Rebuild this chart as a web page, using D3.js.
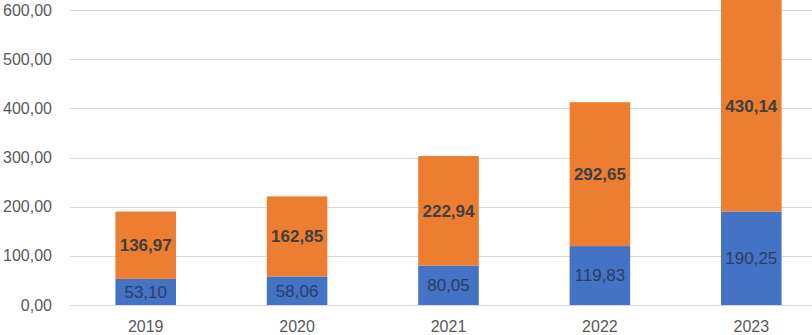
<!DOCTYPE html>
<html>
<head>
<meta charset="utf-8">
<script src="https://cdn.jsdelivr.net/npm/d3@7"></script>
<style>
  body { margin: 0; background: #fff; }
  svg { display: block; font-family: "Liberation Sans", Arial, sans-serif; }
</style>
</head>
<body>
<div id="chart"></div>
<script>
const years = ["2019", "2020", "2021", "2022", "2023"];
const blueValues = [53.10, 58.06, 80.05, 119.83, 190.25];
const orangeValues = [136.97, 162.85, 222.94, 292.65, 430.14];
const yTicks = [0, 100, 200, 300, 400, 500, 600];

const W = 812, H = 335;
const fmt = v => d3.format(".2f")(v).replace(".", ",");

const svg = d3.select("#chart").append("svg").attr("width", W).attr("height", H);

const x = d3.scaleBand().domain(years).range([70, 827]).paddingInner(0.6).paddingOuter(0.3);
const y = d3.scaleLinear().domain([0, 600]).range([305, 10]);

// gridlines
svg.append("g").selectAll("line").data(yTicks).enter().append("line")
  .attr("x1", 70).attr("x2", W)
  .attr("y1", d => Math.round(y(d)) + 0.5).attr("y2", d => Math.round(y(d)) + 0.5)
  .attr("stroke", "#d9d9d9").attr("stroke-width", 1);

// y axis labels
const yAxis = svg.append("g").attr("transform", "translate(52,0)")
  .call(d3.axisLeft(y).tickValues(yTicks).tickSize(0).tickPadding(0).tickFormat(fmt));
yAxis.select(".domain").remove();
yAxis.selectAll("text").attr("fill", "#595959").style("font-size", "16px").style("font-family", "Liberation Sans, Arial, sans-serif");

// x axis labels (sit right on the bottom edge, as in the reference)
const xAxis = svg.append("g").attr("transform", "translate(0,305)")
  .call(d3.axisBottom(x).tickSize(0).tickPadding(16));
xAxis.select(".domain").remove();
xAxis.selectAll("text").attr("fill", "#595959").style("font-size", "16px").style("font-family", "Liberation Sans, Arial, sans-serif");

const rows = years.map((yr, i) => ({ year: yr, blue: blueValues[i], orange: orangeValues[i] }));
const stacked = d3.stack().keys(["blue", "orange"])(rows);
const colors = { blue: "#4472C4", orange: "#ED7D31" };

stacked.forEach(layer => {
  const g = svg.append("g");
  g.selectAll("rect").data(layer).enter().append("rect")
    .attr("x", d => x(d.data.year))
    .attr("width", x.bandwidth())
    .attr("y", d => y(d[1]))
    .attr("height", d => y(d[0]) - y(d[1]))
    .attr("fill", colors[layer.key]);

  g.selectAll("text").data(layer).enter().append("text")
    .attr("x", d => x(d.data.year) + x.bandwidth() / 2)
    .attr("y", d => y((d[0] + d[1]) / 2))
    .attr("dy", "0.35em")
    .attr("text-anchor", "middle")
    .attr("fill", layer.key === "blue" ? "#2b3f63" : "#404040")
    .style("font-size", "17px")
    .style("font-weight", layer.key === "blue" ? "400" : "700")
    .text(d => fmt(d.data[layer.key]));
});
</script>
</body>
</html>
